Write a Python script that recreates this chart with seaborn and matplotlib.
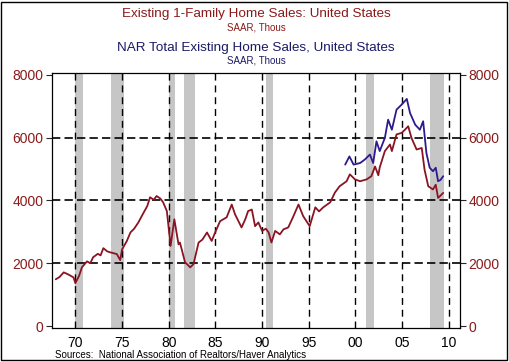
import seaborn as sns
import matplotlib.pyplot as plt
import pandas as pd

# Existing 1-family home sales (SAAR, thous)
red_years = [1967.9, 1968.3, 1968.75, 1969.2, 1969.5, 1969.8, 1970.0, 1970.4, 1970.7,
             1971.25, 1971.6, 1971.9, 1972.4, 1972.7, 1973.0, 1973.4, 1973.7, 1974.1,
             1974.45, 1974.8, 1975.0, 1975.5, 1975.9, 1976.3, 1976.75, 1977.2, 1977.7,
             1978.0, 1978.4, 1978.7, 1979.1, 1979.4, 1979.8, 1980.2, 1980.6, 1981.05,
             1981.2, 1981.75, 1982.3, 1982.65, 1983.2, 1983.6, 1984.1, 1984.6, 1985.0,
             1985.5, 1986.2, 1986.75, 1987.1, 1987.8, 1988.2, 1988.5, 1988.9, 1989.25,
             1989.6, 1990.0, 1990.4, 1990.7, 1991.0, 1991.4, 1991.9, 1992.3, 1992.8,
             1993.3, 1993.9, 1994.4, 1995.1, 1995.7, 1996.1, 1996.55, 1997.3, 1997.8,
             1998.3, 1999.05, 1999.4, 1999.95, 2000.5, 2001.2, 2001.7, 2002.1, 2002.45,
             2002.6, 2003.15, 2003.7, 2003.9, 2004.4, 2004.95, 2005.3, 2005.65, 2006.0,
             2006.55, 2007.1, 2007.4, 2007.8, 2008.3, 2008.6, 2008.85, 2009.1, 2009.4]
red_values = [1490, 1560, 1710, 1650, 1600, 1550, 1365, 1600, 1870,
              2060, 2000, 2190, 2300, 2250, 2480, 2380, 2350, 2320,
              2290, 2100, 2440, 2700, 2980, 3100, 3300, 3550, 3820,
              4100, 4020, 4140, 4060, 3940, 3660, 2550, 3400, 2600,
              2660, 2030, 1870, 1970, 2660, 2750, 2980, 2710, 3000,
              3340, 3460, 3870, 3560, 3140, 3400, 3660, 3710, 3180,
              3300, 3030, 3100, 2980, 2660, 3030, 2920, 3080, 3140,
              3460, 3870, 3500, 3180, 3780, 3650, 3780, 3940, 4250,
              4450, 4610, 4830, 4670, 4610, 4670, 4770, 5080, 4800,
              5050, 5570, 5780, 5570, 6100, 6150, 6250, 6360, 5990,
              5620, 5670, 4980, 4450, 4350, 4500, 4080, 4150, 4240]

# NAR total existing home sales (SAAR, thous)
blue_years = [1998.9, 1999.35, 1999.8, 2000.5, 2001.0, 2001.55, 2001.9, 2002.25,
              2002.6, 2003.15, 2003.5, 2003.9, 2004.4, 2004.95, 2005.5, 2005.85,
              2006.4, 2006.9, 2007.25, 2007.6, 2007.95, 2008.3, 2008.6, 2008.85,
              2009.1, 2009.4]
blue_values = [5140, 5400, 5140, 5190, 5300, 5460, 5190, 5880,
               5570, 5990, 6570, 6250, 6890, 7050, 7230, 6780,
               6410, 6250, 6520, 5510, 5040, 4930, 5040, 4610,
               4650, 4770]

# recessions
rec_start = [1969.95, 1973.85, 1980.0, 1981.6, 1990.45, 2001.15, 2007.95]
rec_end = [1970.85, 1975.2, 1980.65, 1982.85, 1991.15, 2001.95, 2009.5]

year_ticks = [1970, 1975, 1980, 1985, 1990, 1995, 2000, 2005, 2010]
year_labels = ["70", "75", "80", "85", "90", "95", "00", "05", "10"]
y_ticks = [0, 2000, 4000, 6000, 8000]

RED = "#8b1423"
BLUE = "#2e1a8c"
TXT_RED = "#8b1a1a"
NAVY = "#1a1a66"

df_red = pd.DataFrame({"Ano": red_years, "Vendas": red_values})
df_blue = pd.DataFrame({"Ano": blue_years, "Vendas": blue_values})

sns.set_style("white")
plt.rcParams["font.family"] = ["Liberation Sans", "DejaVu Sans"]

fig = plt.figure(figsize=(5.1, 3.62), dpi=100)
ax = fig.add_axes([0.102, 0.094, 0.800, 0.703])

for s, e in zip(rec_start, rec_end):
    ax.axvspan(s, e, color="#c6c6c6", lw=0, zorder=0)

for yy in [2000, 4000, 6000]:
    ax.axhline(yy, color="black", lw=1.2, ls=(0, (5, 2.5)), zorder=1)
for xx in year_ticks:
    ax.axvline(xx, color="black", lw=1.0, ls=(0, (5, 3.5)), zorder=1)

sns.lineplot(data=df_red, x="Ano", y="Vendas", color=RED, lw=1.3, ax=ax, zorder=3)
sns.lineplot(data=df_blue, x="Ano", y="Vendas", color=BLUE, lw=1.3, ax=ax, zorder=3)

ax.set_xlim(1967.5, 2011.2)
ax.set_ylim(-60, 8040)
ax.set_xlabel("")
ax.set_ylabel("")
ax.set_xticks(year_ticks)
ax.set_xticklabels(year_labels)
ax.set_xticks(list(range(1968, 2012)), minor=True)
ax.set_yticks(y_ticks)
ax.tick_params(axis="x", which="major", direction="out", length=4, width=0.8,
               labelsize=10, pad=1.5, colors="black")
ax.tick_params(axis="x", which="minor", direction="out", length=2.5, width=0.6)
ax.tick_params(axis="y", direction="out", length=4, width=0.8, labelsize=10,
               labelcolor=TXT_RED, left=True, right=True, labelright=True, pad=2)
for sp in ax.spines.values():
    sp.set_color("black")
    sp.set_linewidth(0.9)

fig.text(0.502, 0.962, "Existing 1-Family Home Sales: United States", ha="center",
         va="center", fontsize=9.7, color=TXT_RED)
fig.text(0.502, 0.925, "SAAR, Thous", ha="center", va="center", fontsize=7, color=TXT_RED)
fig.text(0.502, 0.868, "NAR Total Existing Home Sales, United States", ha="center",
         va="center", fontsize=9.7, color=NAVY)
fig.text(0.502, 0.832, "SAAR, Thous", ha="center", va="center", fontsize=7, color=NAVY)
fig.text(0.107, 0.02, "Sources:  National Association of Realtors/Haver Analytics",
         ha="left", va="center", fontsize=7, color="black")

fig.patches.append(plt.Rectangle((0.002, 0.005), 0.992, 0.99, transform=fig.transFigure,
                                 fill=False, edgecolor="black", lw=1))

fig.savefig("out.png", dpi=100)
